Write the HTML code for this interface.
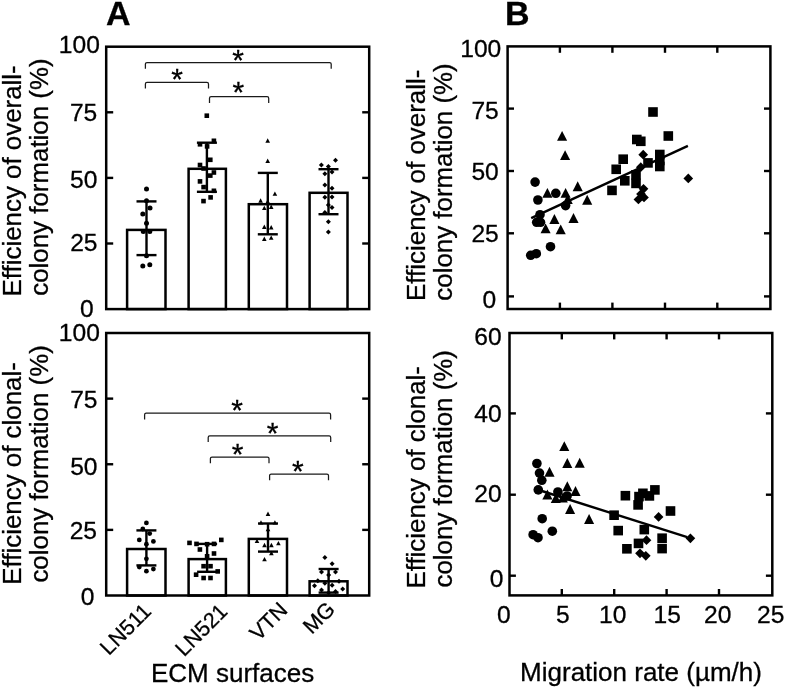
<!DOCTYPE html><html><head><meta charset="utf-8"><title>Figure</title><style>html,body{margin:0;padding:0;background:#fff}svg{display:block}text{font-family:"Liberation Sans", Arial, Helvetica, sans-serif;fill:#000;stroke:#000;stroke-width:0.3px}</style></head><body>
<svg width="785" height="688" viewBox="0 0 785 688">
<rect width="785" height="688" fill="#fff"/>
<rect x="127.10" y="229.90" width="38.40" height="79.20" fill="#fff" stroke="#000" stroke-width="2.5"/>
<rect x="188.60" y="168.80" width="37.30" height="140.30" fill="#fff" stroke="#000" stroke-width="2.5"/>
<rect x="248.80" y="204.20" width="38.20" height="104.90" fill="#fff" stroke="#000" stroke-width="2.5"/>
<rect x="309.60" y="192.80" width="37.90" height="116.30" fill="#fff" stroke="#000" stroke-width="2.5"/>
<line x1="146.50" y1="201.40" x2="146.50" y2="255.10" stroke="#000" stroke-width="2.4" stroke-linecap="butt"/>
<line x1="136.50" y1="201.40" x2="156.50" y2="201.40" stroke="#000" stroke-width="2.4" stroke-linecap="butt"/>
<line x1="136.50" y1="255.10" x2="156.50" y2="255.10" stroke="#000" stroke-width="2.4" stroke-linecap="butt"/>
<line x1="206.90" y1="142.70" x2="206.90" y2="191.80" stroke="#000" stroke-width="2.4" stroke-linecap="butt"/>
<line x1="196.90" y1="142.70" x2="216.90" y2="142.70" stroke="#000" stroke-width="2.4" stroke-linecap="butt"/>
<line x1="196.90" y1="191.80" x2="216.90" y2="191.80" stroke="#000" stroke-width="2.4" stroke-linecap="butt"/>
<line x1="267.80" y1="172.90" x2="267.80" y2="234.30" stroke="#000" stroke-width="2.4" stroke-linecap="butt"/>
<line x1="257.80" y1="172.90" x2="277.80" y2="172.90" stroke="#000" stroke-width="2.4" stroke-linecap="butt"/>
<line x1="257.80" y1="234.30" x2="277.80" y2="234.30" stroke="#000" stroke-width="2.4" stroke-linecap="butt"/>
<line x1="328.50" y1="169.20" x2="328.50" y2="214.20" stroke="#000" stroke-width="2.4" stroke-linecap="butt"/>
<line x1="318.50" y1="169.20" x2="338.50" y2="169.20" stroke="#000" stroke-width="2.4" stroke-linecap="butt"/>
<line x1="318.50" y1="214.20" x2="338.50" y2="214.20" stroke="#000" stroke-width="2.4" stroke-linecap="butt"/>
<rect x="106.20" y="46.70" width="263.00" height="262.40" fill="none" stroke="#000" stroke-width="2.5"/>
<line x1="106.20" y1="243.50" x2="113.20" y2="243.50" stroke="#000" stroke-width="2.4" stroke-linecap="butt"/>
<line x1="362.20" y1="243.50" x2="369.20" y2="243.50" stroke="#000" stroke-width="2.4" stroke-linecap="butt"/>
<line x1="106.20" y1="177.90" x2="113.20" y2="177.90" stroke="#000" stroke-width="2.4" stroke-linecap="butt"/>
<line x1="362.20" y1="177.90" x2="369.20" y2="177.90" stroke="#000" stroke-width="2.4" stroke-linecap="butt"/>
<line x1="106.20" y1="112.30" x2="113.20" y2="112.30" stroke="#000" stroke-width="2.4" stroke-linecap="butt"/>
<line x1="362.20" y1="112.30" x2="369.20" y2="112.30" stroke="#000" stroke-width="2.4" stroke-linecap="butt"/>
<g fill="#000">
<circle cx="146.50" cy="189.10" r="2.5"/>
<circle cx="146.50" cy="200.70" r="2.5"/>
<circle cx="150.00" cy="208.10" r="2.5"/>
<circle cx="142.80" cy="214.00" r="2.5"/>
<circle cx="146.50" cy="223.30" r="2.5"/>
<circle cx="143.30" cy="231.60" r="2.5"/>
<circle cx="149.80" cy="231.60" r="2.5"/>
<circle cx="146.50" cy="255.80" r="2.5"/>
<circle cx="142.80" cy="266.00" r="2.5"/>
<circle cx="149.80" cy="264.70" r="2.5"/>
<rect x="204.50" y="113.40" width="4.6" height="4.6"/>
<rect x="211.60" y="138.50" width="4.6" height="4.6"/>
<rect x="197.70" y="142.00" width="4.6" height="4.6"/>
<rect x="204.80" y="144.10" width="4.6" height="4.6"/>
<rect x="208.00" y="157.50" width="4.6" height="4.6"/>
<rect x="197.70" y="162.70" width="4.6" height="4.6"/>
<rect x="201.30" y="166.20" width="4.6" height="4.6"/>
<rect x="211.60" y="170.20" width="4.6" height="4.6"/>
<rect x="208.00" y="173.30" width="4.6" height="4.6"/>
<rect x="197.70" y="179.10" width="4.6" height="4.6"/>
<rect x="201.30" y="184.80" width="4.6" height="4.6"/>
<rect x="211.60" y="188.50" width="4.6" height="4.6"/>
<rect x="208.30" y="195.10" width="4.6" height="4.6"/>
<rect x="201.20" y="198.80" width="4.6" height="4.6"/>
<polygon points="267.70,138.30 270.00,142.70 265.40,142.70"/>
<polygon points="267.70,158.50 270.00,162.90 265.40,162.90"/>
<polygon points="274.90,191.40 277.20,195.80 272.60,195.80"/>
<polygon points="260.60,198.30 262.90,202.70 258.30,202.70"/>
<polygon points="267.70,199.20 270.00,203.60 265.40,203.60"/>
<polygon points="264.30,205.70 266.60,210.10 262.00,210.10"/>
<polygon points="271.20,204.60 273.50,209.00 268.90,209.00"/>
<polygon points="264.30,224.60 266.60,229.00 262.00,229.00"/>
<polygon points="271.20,225.00 273.50,229.40 268.90,229.40"/>
<polygon points="264.30,236.60 266.60,241.00 262.00,241.00"/>
<polygon points="271.20,235.40 273.50,239.80 268.90,239.80"/>
<polygon points="335.50,157.80 338.00,160.30 335.50,162.80 333.00,160.30"/>
<polygon points="321.40,162.40 323.90,164.90 321.40,167.40 318.90,164.90"/>
<polygon points="328.40,163.90 330.90,166.40 328.40,168.90 325.90,166.40"/>
<polygon points="324.90,171.20 327.40,173.70 324.90,176.20 322.40,173.70"/>
<polygon points="332.00,169.40 334.50,171.90 332.00,174.40 329.50,171.90"/>
<polygon points="324.90,182.60 327.40,185.10 324.90,187.60 322.40,185.10"/>
<polygon points="332.00,185.80 334.50,188.30 332.00,190.80 329.50,188.30"/>
<polygon points="324.90,194.80 327.40,197.30 324.90,199.80 322.40,197.30"/>
<polygon points="332.00,194.40 334.50,196.90 332.00,199.40 329.50,196.90"/>
<polygon points="328.40,202.50 330.90,205.00 328.40,207.50 325.90,205.00"/>
<polygon points="332.00,205.00 334.50,207.50 332.00,210.00 329.50,207.50"/>
<polygon points="324.90,210.00 327.40,212.50 324.90,215.00 322.40,212.50"/>
<polygon points="328.40,219.20 330.90,221.70 328.40,224.20 325.90,221.70"/>
<polygon points="328.40,229.60 330.90,232.10 328.40,234.60 325.90,232.10"/>
</g>
<path d="M145.40,68.80 L145.40,64.10 Q145.40,62.50 147.00,62.50 L329.60,62.50 Q331.20,62.50 331.20,64.10 L331.20,68.80" fill="none" stroke="#1a1a1a" stroke-width="1.25"/>
<text x="238.00" y="69.90" font-size="30" text-anchor="middle" font-weight="normal">*</text>
<path d="M145.40,88.60 L145.40,83.90 Q145.40,82.30 147.00,82.30 L206.90,82.30 Q208.50,82.30 208.50,83.90 L208.50,88.60" fill="none" stroke="#1a1a1a" stroke-width="1.25"/>
<text x="177.20" y="89.30" font-size="30" text-anchor="middle" font-weight="normal">*</text>
<path d="M209.50,103.00 L209.50,98.30 Q209.50,96.70 211.10,96.70 L267.10,96.70 Q268.70,96.70 268.70,98.30 L268.70,103.00" fill="none" stroke="#1a1a1a" stroke-width="1.25"/>
<text x="238.30" y="102.00" font-size="30" text-anchor="middle" font-weight="normal">*</text>
<rect x="127.10" y="549.00" width="38.40" height="46.50" fill="#fff" stroke="#000" stroke-width="2.5"/>
<rect x="188.60" y="559.10" width="37.30" height="36.40" fill="#fff" stroke="#000" stroke-width="2.5"/>
<rect x="248.80" y="538.90" width="38.20" height="56.60" fill="#fff" stroke="#000" stroke-width="2.5"/>
<rect x="309.60" y="581.30" width="37.90" height="14.20" fill="#fff" stroke="#000" stroke-width="2.5"/>
<line x1="146.40" y1="530.40" x2="146.40" y2="565.40" stroke="#000" stroke-width="2.4" stroke-linecap="butt"/>
<line x1="136.40" y1="530.40" x2="156.40" y2="530.40" stroke="#000" stroke-width="2.4" stroke-linecap="butt"/>
<line x1="136.40" y1="565.40" x2="156.40" y2="565.40" stroke="#000" stroke-width="2.4" stroke-linecap="butt"/>
<line x1="207.10" y1="543.90" x2="207.10" y2="571.80" stroke="#000" stroke-width="2.4" stroke-linecap="butt"/>
<line x1="197.10" y1="543.90" x2="217.10" y2="543.90" stroke="#000" stroke-width="2.4" stroke-linecap="butt"/>
<line x1="197.10" y1="571.80" x2="217.10" y2="571.80" stroke="#000" stroke-width="2.4" stroke-linecap="butt"/>
<line x1="268.00" y1="523.50" x2="268.00" y2="551.60" stroke="#000" stroke-width="2.4" stroke-linecap="butt"/>
<line x1="258.00" y1="523.50" x2="278.00" y2="523.50" stroke="#000" stroke-width="2.4" stroke-linecap="butt"/>
<line x1="258.00" y1="551.60" x2="278.00" y2="551.60" stroke="#000" stroke-width="2.4" stroke-linecap="butt"/>
<line x1="328.60" y1="569.00" x2="328.60" y2="592.60" stroke="#000" stroke-width="2.4" stroke-linecap="butt"/>
<line x1="318.60" y1="569.00" x2="338.60" y2="569.00" stroke="#000" stroke-width="2.4" stroke-linecap="butt"/>
<line x1="318.60" y1="592.60" x2="338.60" y2="592.60" stroke="#000" stroke-width="2.4" stroke-linecap="butt"/>
<rect x="106.20" y="333.00" width="263.00" height="262.50" fill="none" stroke="#000" stroke-width="2.5"/>
<line x1="106.20" y1="529.88" x2="113.20" y2="529.88" stroke="#000" stroke-width="2.4" stroke-linecap="butt"/>
<line x1="362.20" y1="529.88" x2="369.20" y2="529.88" stroke="#000" stroke-width="2.4" stroke-linecap="butt"/>
<line x1="106.20" y1="464.25" x2="113.20" y2="464.25" stroke="#000" stroke-width="2.4" stroke-linecap="butt"/>
<line x1="362.20" y1="464.25" x2="369.20" y2="464.25" stroke="#000" stroke-width="2.4" stroke-linecap="butt"/>
<line x1="106.20" y1="398.62" x2="113.20" y2="398.62" stroke="#000" stroke-width="2.4" stroke-linecap="butt"/>
<line x1="362.20" y1="398.62" x2="369.20" y2="398.62" stroke="#000" stroke-width="2.4" stroke-linecap="butt"/>
<g fill="#000">
<circle cx="146.40" cy="522.90" r="2.4"/>
<circle cx="142.80" cy="529.00" r="2.4"/>
<circle cx="149.70" cy="533.60" r="2.4"/>
<circle cx="139.30" cy="539.90" r="2.4"/>
<circle cx="153.40" cy="541.40" r="2.4"/>
<circle cx="146.40" cy="544.20" r="2.4"/>
<circle cx="146.40" cy="558.80" r="2.4"/>
<circle cx="139.30" cy="567.10" r="2.4"/>
<circle cx="153.40" cy="569.10" r="2.4"/>
<circle cx="146.40" cy="571.20" r="2.4"/>
<rect x="219.00" y="537.60" width="4.6" height="4.6"/>
<rect x="187.20" y="540.60" width="4.6" height="4.6"/>
<rect x="194.20" y="541.60" width="4.6" height="4.6"/>
<rect x="204.80" y="541.90" width="4.6" height="4.6"/>
<rect x="211.70" y="541.60" width="4.6" height="4.6"/>
<rect x="197.60" y="547.20" width="4.6" height="4.6"/>
<rect x="211.70" y="551.20" width="4.6" height="4.6"/>
<rect x="204.80" y="554.00" width="4.6" height="4.6"/>
<rect x="201.30" y="563.90" width="4.6" height="4.6"/>
<rect x="208.20" y="563.90" width="4.6" height="4.6"/>
<rect x="215.40" y="569.10" width="4.6" height="4.6"/>
<rect x="193.80" y="572.40" width="4.6" height="4.6"/>
<rect x="201.30" y="575.70" width="4.6" height="4.6"/>
<rect x="208.20" y="575.70" width="4.6" height="4.6"/>
<polygon points="268.00,511.50 270.30,515.90 265.70,515.90"/>
<polygon points="261.00,520.20 263.30,524.60 258.70,524.60"/>
<polygon points="274.90,520.20 277.20,524.60 272.60,524.60"/>
<polygon points="268.00,526.80 270.30,531.20 265.70,531.20"/>
<polygon points="257.00,538.70 259.30,543.10 254.70,543.10"/>
<polygon points="278.40,540.90 280.70,545.30 276.10,545.30"/>
<polygon points="264.50,542.80 266.80,547.20 262.20,547.20"/>
<polygon points="271.40,542.80 273.70,547.20 269.10,547.20"/>
<polygon points="271.40,550.80 273.70,555.20 269.10,555.20"/>
<polygon points="264.50,556.90 266.80,561.30 262.20,561.30"/>
<polygon points="324.90,555.00 327.40,557.50 324.90,560.00 322.40,557.50"/>
<polygon points="332.10,561.30 334.60,563.80 332.10,566.30 329.60,563.80"/>
<polygon points="321.50,569.50 324.00,572.00 321.50,574.50 319.00,572.00"/>
<polygon points="335.50,569.50 338.00,572.00 335.50,574.50 333.00,572.00"/>
<polygon points="328.60,572.40 331.10,574.90 328.60,577.40 326.10,574.90"/>
<polygon points="317.80,578.30 320.30,580.80 317.80,583.30 315.30,580.80"/>
<polygon points="339.00,578.70 341.50,581.20 339.00,583.70 336.50,581.20"/>
<polygon points="324.90,580.80 327.40,583.30 324.90,585.80 322.40,583.30"/>
<polygon points="332.10,582.80 334.60,585.30 332.10,587.80 329.60,585.30"/>
<polygon points="314.50,583.30 317.00,585.80 314.50,588.30 312.00,585.80"/>
<polygon points="342.70,586.40 345.20,588.90 342.70,591.40 340.20,588.90"/>
<polygon points="321.50,587.40 324.00,589.90 321.50,592.40 319.00,589.90"/>
<polygon points="335.50,588.90 338.00,591.40 335.50,593.90 333.00,591.40"/>
<polygon points="328.60,590.20 331.10,592.70 328.60,595.20 326.10,592.70"/>
</g>
<path d="M144.60,419.40 L144.60,414.70 Q144.60,413.10 146.20,413.10 L329.00,413.10 Q330.60,413.10 330.60,414.70 L330.60,419.40" fill="none" stroke="#1a1a1a" stroke-width="1.25"/>
<text x="237.00" y="419.90" font-size="30" text-anchor="middle" font-weight="normal">*</text>
<path d="M208.20,442.10 L208.20,437.40 Q208.20,435.80 209.80,435.80 L329.10,435.80 Q330.70,435.80 330.70,437.40 L330.70,442.10" fill="none" stroke="#1a1a1a" stroke-width="1.25"/>
<text x="272.50" y="443.40" font-size="30" text-anchor="middle" font-weight="normal">*</text>
<path d="M210.40,463.30 L210.40,458.60 Q210.40,457.00 212.00,457.00 L267.40,457.00 Q269.00,457.00 269.00,458.60 L269.00,463.30" fill="none" stroke="#1a1a1a" stroke-width="1.25"/>
<text x="237.70" y="464.40" font-size="30" text-anchor="middle" font-weight="normal">*</text>
<path d="M269.60,480.30 L269.60,475.60 Q269.60,474.00 271.20,474.00 L326.90,474.00 Q328.50,474.00 328.50,475.60 L328.50,480.30" fill="none" stroke="#1a1a1a" stroke-width="1.25"/>
<text x="297.90" y="481.40" font-size="30" text-anchor="middle" font-weight="normal">*</text>
<rect x="507.60" y="46.40" width="262.80" height="262.60" fill="none" stroke="#000" stroke-width="2.5"/>
<line x1="507.60" y1="108.60" x2="514.00" y2="108.60" stroke="#000" stroke-width="2.4" stroke-linecap="butt"/>
<line x1="764.00" y1="108.60" x2="770.40" y2="108.60" stroke="#000" stroke-width="2.4" stroke-linecap="butt"/>
<line x1="507.60" y1="171.00" x2="514.00" y2="171.00" stroke="#000" stroke-width="2.4" stroke-linecap="butt"/>
<line x1="764.00" y1="171.00" x2="770.40" y2="171.00" stroke="#000" stroke-width="2.4" stroke-linecap="butt"/>
<line x1="507.60" y1="233.30" x2="514.00" y2="233.30" stroke="#000" stroke-width="2.4" stroke-linecap="butt"/>
<line x1="764.00" y1="233.30" x2="770.40" y2="233.30" stroke="#000" stroke-width="2.4" stroke-linecap="butt"/>
<line x1="507.60" y1="296.40" x2="514.00" y2="296.40" stroke="#000" stroke-width="2.4" stroke-linecap="butt"/>
<line x1="764.00" y1="296.40" x2="770.40" y2="296.40" stroke="#000" stroke-width="2.4" stroke-linecap="butt"/>
<line x1="559.90" y1="46.40" x2="559.90" y2="52.80" stroke="#000" stroke-width="2.4" stroke-linecap="butt"/>
<line x1="559.90" y1="302.60" x2="559.90" y2="309.00" stroke="#000" stroke-width="2.4" stroke-linecap="butt"/>
<line x1="612.40" y1="46.40" x2="612.40" y2="52.80" stroke="#000" stroke-width="2.4" stroke-linecap="butt"/>
<line x1="612.40" y1="302.60" x2="612.40" y2="309.00" stroke="#000" stroke-width="2.4" stroke-linecap="butt"/>
<line x1="665.00" y1="46.40" x2="665.00" y2="52.80" stroke="#000" stroke-width="2.4" stroke-linecap="butt"/>
<line x1="665.00" y1="302.60" x2="665.00" y2="309.00" stroke="#000" stroke-width="2.4" stroke-linecap="butt"/>
<line x1="717.30" y1="46.40" x2="717.30" y2="52.80" stroke="#000" stroke-width="2.4" stroke-linecap="butt"/>
<line x1="717.30" y1="302.60" x2="717.30" y2="309.00" stroke="#000" stroke-width="2.4" stroke-linecap="butt"/>
<g fill="#000">
<circle cx="535.10" cy="182.10" r="4.8"/>
<circle cx="537.90" cy="200.00" r="4.8"/>
<circle cx="555.80" cy="193.30" r="4.8"/>
<circle cx="565.60" cy="205.60" r="4.8"/>
<circle cx="540.00" cy="214.70" r="4.8"/>
<circle cx="536.70" cy="222.30" r="4.8"/>
<circle cx="540.50" cy="222.30" r="4.8"/>
<circle cx="550.50" cy="246.70" r="4.8"/>
<circle cx="536.30" cy="253.70" r="4.8"/>
<circle cx="530.70" cy="255.30" r="4.8"/>
<polygon points="562.10,130.90 567.15,140.80 557.05,140.80"/>
<polygon points="565.10,150.20 570.15,160.10 560.05,160.10"/>
<polygon points="577.70,181.30 582.75,191.20 572.65,191.20"/>
<polygon points="547.40,187.90 552.45,197.80 542.35,197.80"/>
<polygon points="565.60,187.90 570.65,197.80 560.55,197.80"/>
<polygon points="567.70,194.10 572.75,204.00 562.65,204.00"/>
<polygon points="587.20,194.80 592.25,204.70 582.15,204.70"/>
<polygon points="554.40,214.10 559.45,224.00 549.35,224.00"/>
<polygon points="573.50,213.00 578.55,222.90 568.45,222.90"/>
<polygon points="545.60,223.40 550.65,233.30 540.55,233.30"/>
<polygon points="560.70,224.40 565.75,234.30 555.65,234.30"/>
<rect x="648.20" y="107.20" width="9.6" height="9.6"/>
<rect x="663.50" y="131.20" width="9.6" height="9.6"/>
<rect x="632.00" y="134.70" width="9.6" height="9.6"/>
<rect x="636.00" y="136.50" width="9.6" height="9.6"/>
<rect x="618.40" y="154.40" width="9.6" height="9.6"/>
<rect x="655.00" y="149.70" width="9.6" height="9.6"/>
<rect x="655.00" y="155.70" width="9.6" height="9.6"/>
<rect x="655.00" y="161.70" width="9.6" height="9.6"/>
<rect x="643.20" y="158.10" width="9.6" height="9.6"/>
<rect x="611.40" y="164.50" width="9.6" height="9.6"/>
<rect x="620.00" y="176.00" width="9.6" height="9.6"/>
<rect x="631.20" y="170.00" width="9.6" height="9.6"/>
<rect x="631.20" y="178.60" width="9.6" height="9.6"/>
<rect x="607.20" y="185.60" width="9.6" height="9.6"/>
<polygon points="643.20,149.85 648.05,154.70 643.20,159.55 638.35,154.70"/>
<polygon points="640.80,162.35 645.65,167.20 640.80,172.05 635.95,167.20"/>
<polygon points="688.30,173.55 693.15,178.40 688.30,183.25 683.45,178.40"/>
<polygon points="643.50,183.95 648.35,188.80 643.50,193.65 638.65,188.80"/>
<polygon points="641.00,189.15 645.85,194.00 641.00,198.85 636.15,194.00"/>
<polygon points="638.40,194.65 643.25,199.50 638.40,204.35 633.55,199.50"/>
<polygon points="644.00,192.65 648.85,197.50 644.00,202.35 639.15,197.50"/>
</g>
<line x1="531.20" y1="218.10" x2="687.90" y2="145.80" stroke="#000" stroke-width="2.4" stroke-linecap="butt"/>
<rect x="509.50" y="333.00" width="262.80" height="262.40" fill="none" stroke="#000" stroke-width="2.5"/>
<line x1="509.50" y1="413.40" x2="515.90" y2="413.40" stroke="#000" stroke-width="2.4" stroke-linecap="butt"/>
<line x1="765.90" y1="413.40" x2="772.30" y2="413.40" stroke="#000" stroke-width="2.4" stroke-linecap="butt"/>
<line x1="509.50" y1="494.70" x2="515.90" y2="494.70" stroke="#000" stroke-width="2.4" stroke-linecap="butt"/>
<line x1="765.90" y1="494.70" x2="772.30" y2="494.70" stroke="#000" stroke-width="2.4" stroke-linecap="butt"/>
<line x1="509.50" y1="575.70" x2="515.90" y2="575.70" stroke="#000" stroke-width="2.4" stroke-linecap="butt"/>
<line x1="765.90" y1="575.70" x2="772.30" y2="575.70" stroke="#000" stroke-width="2.4" stroke-linecap="butt"/>
<line x1="561.80" y1="333.00" x2="561.80" y2="339.40" stroke="#000" stroke-width="2.4" stroke-linecap="butt"/>
<line x1="561.80" y1="589.00" x2="561.80" y2="595.40" stroke="#000" stroke-width="2.4" stroke-linecap="butt"/>
<line x1="614.20" y1="333.00" x2="614.20" y2="339.40" stroke="#000" stroke-width="2.4" stroke-linecap="butt"/>
<line x1="614.20" y1="589.00" x2="614.20" y2="595.40" stroke="#000" stroke-width="2.4" stroke-linecap="butt"/>
<line x1="666.60" y1="333.00" x2="666.60" y2="339.40" stroke="#000" stroke-width="2.4" stroke-linecap="butt"/>
<line x1="666.60" y1="589.00" x2="666.60" y2="595.40" stroke="#000" stroke-width="2.4" stroke-linecap="butt"/>
<line x1="719.00" y1="333.00" x2="719.00" y2="339.40" stroke="#000" stroke-width="2.4" stroke-linecap="butt"/>
<line x1="719.00" y1="589.00" x2="719.00" y2="595.40" stroke="#000" stroke-width="2.4" stroke-linecap="butt"/>
<g fill="#000">
<circle cx="536.90" cy="463.50" r="4.8"/>
<circle cx="539.50" cy="473.10" r="4.8"/>
<circle cx="541.80" cy="480.30" r="4.8"/>
<circle cx="538.30" cy="489.90" r="4.8"/>
<circle cx="557.90" cy="492.00" r="4.8"/>
<circle cx="567.10" cy="496.00" r="4.8"/>
<circle cx="542.20" cy="518.70" r="4.8"/>
<circle cx="552.30" cy="531.20" r="4.8"/>
<circle cx="533.10" cy="534.70" r="4.8"/>
<circle cx="538.00" cy="537.70" r="4.8"/>
<polygon points="564.30,441.20 569.35,451.10 559.25,451.10"/>
<polygon points="567.30,458.10 572.35,468.00 562.25,468.00"/>
<polygon points="579.70,457.80 584.75,467.70 574.65,467.70"/>
<polygon points="549.50,466.80 554.55,476.70 544.45,476.70"/>
<polygon points="567.30,481.30 572.35,491.20 562.25,491.20"/>
<polygon points="575.50,486.00 580.55,495.90 570.45,495.90"/>
<polygon points="547.40,489.50 552.45,499.40 542.35,499.40"/>
<polygon points="555.80,493.20 560.85,503.10 550.75,503.10"/>
<polygon points="562.80,492.70 567.85,502.60 557.75,502.60"/>
<polygon points="570.10,504.00 575.15,513.90 565.05,513.90"/>
<polygon points="589.10,514.00 594.15,523.90 584.05,523.90"/>
<rect x="620.60" y="490.90" width="9.6" height="9.6"/>
<rect x="638.10" y="488.50" width="9.6" height="9.6"/>
<rect x="634.20" y="491.80" width="9.6" height="9.6"/>
<rect x="650.10" y="485.10" width="9.6" height="9.6"/>
<rect x="644.60" y="491.10" width="9.6" height="9.6"/>
<rect x="633.30" y="500.10" width="9.6" height="9.6"/>
<rect x="665.70" y="506.20" width="9.6" height="9.6"/>
<rect x="609.30" y="510.40" width="9.6" height="9.6"/>
<rect x="613.40" y="525.80" width="9.6" height="9.6"/>
<rect x="639.50" y="524.80" width="9.6" height="9.6"/>
<rect x="633.70" y="538.60" width="9.6" height="9.6"/>
<rect x="622.10" y="544.00" width="9.6" height="9.6"/>
<rect x="657.30" y="533.40" width="9.6" height="9.6"/>
<rect x="657.30" y="543.80" width="9.6" height="9.6"/>
<polygon points="658.60,512.05 663.45,516.90 658.60,521.75 653.75,516.90"/>
<polygon points="646.50,535.35 651.35,540.20 646.50,545.05 641.65,540.20"/>
<polygon points="690.40,533.45 695.25,538.30 690.40,543.15 685.55,538.30"/>
<polygon points="640.00,548.45 644.85,553.30 640.00,558.15 635.15,553.30"/>
<polygon points="645.80,550.95 650.65,555.80 645.80,560.65 640.95,555.80"/>
</g>
<line x1="534.00" y1="488.50" x2="687.20" y2="537.20" stroke="#000" stroke-width="2.4" stroke-linecap="butt"/>
<text x="106.00" y="25.40" font-size="34.0" text-anchor="start" font-weight="bold">A</text>
<text x="505.00" y="25.40" font-size="34.0" text-anchor="start" font-weight="bold">B</text>
<text x="99.90" y="52.95" font-size="24.6" text-anchor="end" font-weight="normal">100</text>
<text x="97.30" y="121.35" font-size="24.6" text-anchor="end" font-weight="normal">75</text>
<text x="97.40" y="187.85" font-size="24.6" text-anchor="end" font-weight="normal">50</text>
<text x="97.50" y="251.15" font-size="24.6" text-anchor="end" font-weight="normal">25</text>
<text x="93.80" y="317.15" font-size="24.6" text-anchor="end" font-weight="normal">0</text>
<text x="99.90" y="340.95" font-size="24.6" text-anchor="end" font-weight="normal">100</text>
<text x="97.50" y="408.35" font-size="24.6" text-anchor="end" font-weight="normal">75</text>
<text x="97.50" y="474.95" font-size="24.6" text-anchor="end" font-weight="normal">50</text>
<text x="97.00" y="538.75" font-size="24.6" text-anchor="end" font-weight="normal">25</text>
<text x="94.50" y="605.05" font-size="24.6" text-anchor="end" font-weight="normal">0</text>
<text x="501.30" y="56.75" font-size="24.6" text-anchor="end" font-weight="normal">100</text>
<text x="498.80" y="119.05" font-size="24.6" text-anchor="end" font-weight="normal">75</text>
<text x="498.80" y="180.45" font-size="24.6" text-anchor="end" font-weight="normal">50</text>
<text x="498.80" y="241.75" font-size="24.6" text-anchor="end" font-weight="normal">25</text>
<text x="496.20" y="308.05" font-size="24.6" text-anchor="end" font-weight="normal">0</text>
<text x="501.70" y="344.75" font-size="24.6" text-anchor="end" font-weight="normal">60</text>
<text x="501.60" y="422.15" font-size="24.6" text-anchor="end" font-weight="normal">40</text>
<text x="501.70" y="502.25" font-size="24.6" text-anchor="end" font-weight="normal">20</text>
<text x="503.50" y="587.35" font-size="24.6" text-anchor="end" font-weight="normal">0</text>
<text x="503.80" y="622.90" font-size="24.6" text-anchor="middle" font-weight="normal">0</text>
<text x="562.80" y="622.90" font-size="24.6" text-anchor="middle" font-weight="normal">5</text>
<text x="612.80" y="622.90" font-size="24.6" text-anchor="middle" font-weight="normal">10</text>
<text x="667.20" y="622.90" font-size="24.6" text-anchor="middle" font-weight="normal">15</text>
<text x="717.80" y="622.90" font-size="24.6" text-anchor="middle" font-weight="normal">20</text>
<text x="770.80" y="622.90" font-size="24.6" text-anchor="middle" font-weight="normal">25</text>
<text x="21.00" y="180.90" font-size="25.9" text-anchor="middle" font-weight="normal" transform="rotate(-90 21.00 180.90)">Efficiency of overall-</text>
<text x="47.60" y="177.10" font-size="25.9" text-anchor="middle" font-weight="normal" transform="rotate(-90 47.60 177.10)">colony formation (%)</text>
<text x="21.00" y="473.40" font-size="25.9" text-anchor="middle" font-weight="normal" transform="rotate(-90 21.00 473.40)">Efficiency of clonal-</text>
<text x="48.00" y="463.90" font-size="25.9" text-anchor="middle" font-weight="normal" transform="rotate(-90 48.00 463.90)">colony formation (%)</text>
<text x="425.00" y="185.30" font-size="25.9" text-anchor="middle" font-weight="normal" transform="rotate(-90 425.00 185.30)">Efficiency of overall-</text>
<text x="452.00" y="182.00" font-size="25.9" text-anchor="middle" font-weight="normal" transform="rotate(-90 452.00 182.00)">colony formation (%)</text>
<text x="425.00" y="477.30" font-size="25.9" text-anchor="middle" font-weight="normal" transform="rotate(-90 425.00 477.30)">Efficiency of clonal-</text>
<text x="452.00" y="468.80" font-size="25.9" text-anchor="middle" font-weight="normal" transform="rotate(-90 452.00 468.80)">colony formation (%)</text>
<text x="232.60" y="682.00" font-size="26" text-anchor="middle" font-weight="normal">ECM surfaces</text>
<text x="641.00" y="680.80" font-size="26" text-anchor="middle" font-weight="normal">Migration rate (µm/h)</text>
<text x="152.50" y="612.50" font-size="21.5" text-anchor="end" font-weight="normal" transform="rotate(-45 152.50 612.50)">LN511</text>
<text x="228.80" y="612.70" font-size="21.5" text-anchor="end" font-weight="normal" transform="rotate(-45 228.80 612.70)">LN521</text>
<text x="288.80" y="611.30" font-size="21.5" text-anchor="end" font-weight="normal" transform="rotate(-45 288.80 611.30)">VTN</text>
<text x="336.30" y="610.60" font-size="21.5" text-anchor="end" font-weight="normal" transform="rotate(-45 336.30 610.60)">MG</text>
</svg></body></html>
